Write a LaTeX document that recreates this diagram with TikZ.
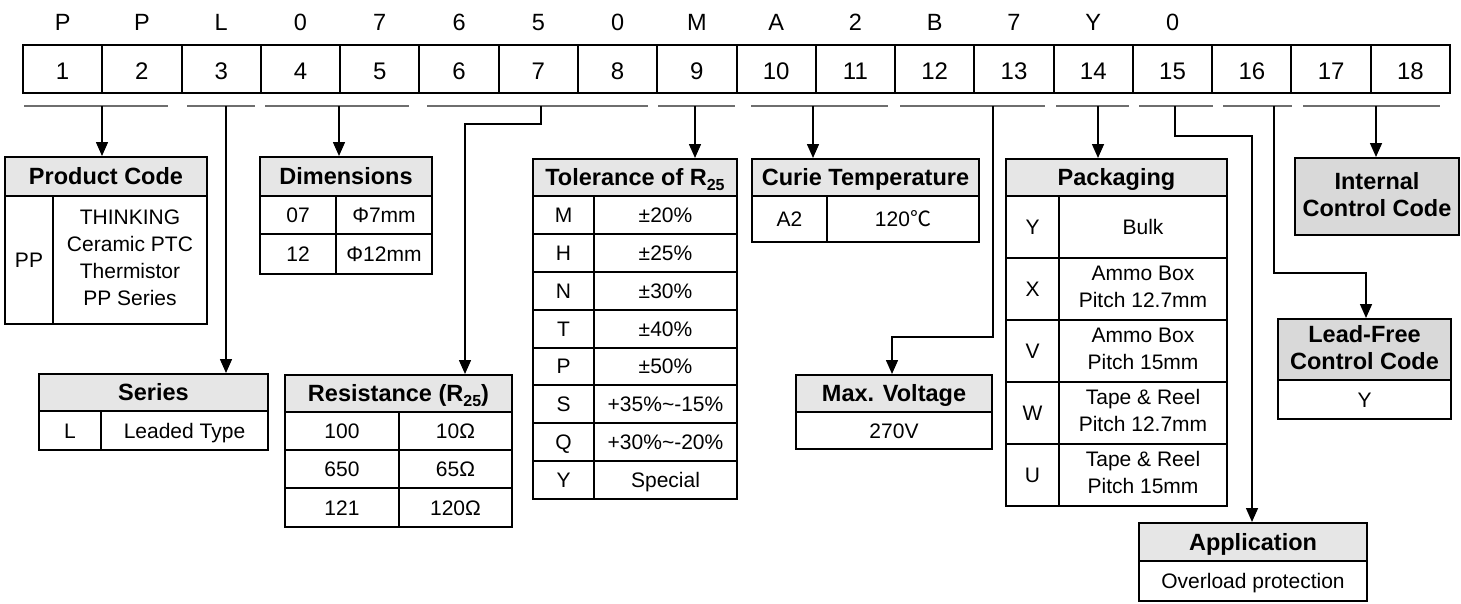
\documentclass[tikz,border=0pt]{standalone}
\usepackage{fontspec}
\setmainfont{Liberation Sans}
\newfontfamily\cjk{Noto Sans CJK SC}
\usetikzlibrary{arrows.meta}
\definecolor{hdr}{HTML}{E6E6E6}
\definecolor{hdrdark}{HTML}{D9D9D9}
\definecolor{segc}{HTML}{6E6E6E}
\newcommand\bodyfont{\fontsize{21}{27}\selectfont}
\newcommand\hdrfont{\fontsize{23.5}{27}\selectfont\bfseries}
\newcommand\mystrut{\rule[-0.21em]{0pt}{1.136em}}
\newcommand\subtxt[1]{\raisebox{-0.18em}{\fontsize{16}{16}\selectfont #1}}
\tikzset{
  cellbox/.style={draw=black, line width=2pt, inner sep=0pt, align=center, font=\bodyfont,
    execute at begin node=\mystrut, execute at end node=\mystrut},
  hdrbox/.style={cellbox, fill=hdr, font=\hdrfont},
  hdrdarkbox/.style={cellbox, fill=hdrdark, font=\hdrfont},
  topcell/.style={draw=black, line width=2pt, inner sep=0pt, font=\fontsize{24}{28}\selectfont,
    minimum width=79.28pt, minimum height=48pt},
  topnum/.style={inner sep=0pt, font=\fontsize{24}{28}\selectfont, execute at begin node=\mystrut},
  letter/.style={inner sep=0pt, font=\fontsize{23.5}{27}\selectfont, execute at begin node=\mystrut},
  seg/.style={draw=segc, line width=2pt},
  arr/.style={draw=black, line width=1.5pt, -{Triangle[length=14pt,width=12pt]}}
}
\newcommand\tcell[7][cellbox]{%
  \node[#1, minimum width={(#5)-(#3)}, minimum height={(#6)-(#4)}] (#2)
    at ({((#3)+(#5))/2},{((#4)+(#6))/2}) {#7};}
\begin{document}
\begin{tikzpicture}[x=1pt,y=-1pt]
\useasboundingbox (0,0) rectangle (1461,603);

% top row
\foreach \i in {1,...,18}{
  \node[topcell] (c\i) at ({23+79.28*(\i-0.5)},69) {};
  \node[topnum] (n\i) at ({23+79.28*(\i-0.5)},70.5) {\i};
}
\foreach \l [count=\i] in {P,P,L,0,7,6,5,0,M,A,2,B,7,Y,0}
  \node[letter] (l\i) at ({23+79.28*(\i-0.5)},22) {\l};

% underline segments
\draw[seg] (24,106) -- (168,106);
\draw[seg] (187,106) -- (255,106);
\draw[seg] (265,106) -- (409,106);
\draw[seg] (427,106) -- (648,106);
\draw[seg] (658,106) -- (735,106);
\draw[seg] (751,106) -- (888,106);
\draw[seg] (900,106) -- (1045,106);
\draw[seg] (1056,106) -- (1129,106);
\draw[seg] (1139,106) -- (1213,106);
\draw[seg] (1223,106) -- (1292,106);
\draw[seg] (1303,106) -- (1440,106);

% connector start points and bends
\coordinate (s1) at (102,106);
\coordinate (s2) at (226,106);
\coordinate (s3) at (339,106);
\coordinate (s4) at (541,106);
\coordinate (k4) at (465,124);
\coordinate (s5) at (695,106);
\coordinate (s6) at (813,106);
\coordinate (s7) at (993,106);
\coordinate (k7) at (892,337);
\coordinate (s8) at (1098,106);
\coordinate (s9) at (1175,106);
\coordinate (k9) at (1252,136);
\coordinate (s10) at (1274,106);
\coordinate (k10) at (1366,273);
\coordinate (s11) at (1376,106);

% Product Code
\tcell[hdrbox]{pch}{5}{157}{207}{196}{Product Code}
\tcell{pca}{5}{196}{53}{324}{PP}
\tcell{pcb}{53}{196}{207}{324}{THINKING\\Ceramic PTC\\Thermistor\\PP Series}

% Dimensions
\tcell[hdrbox]{dmh}{260}{157}{432}{196}{Dimensions}
\tcell{dm1a}{260}{196}{336}{234}{07}
\tcell{dm1b}{336}{196}{432}{234}{Φ7mm}
\tcell{dm2a}{260}{234}{336}{274}{12}
\tcell{dm2b}{336}{234}{432}{274}{Φ12mm}

% Tolerance
\tcell[hdrbox]{toh}{533}{159}{737}{196}{Tolerance of R\subtxt{25}}
\foreach \k/\v [count=\i] in {M/±20\%, H/±25\%, N/±30\%, T/±40\%, P/±50\%,
    S/+35\%\textasciitilde-15\%, Q/+30\%\textasciitilde-20\%, Y/Special}{
  \pgfmathsetmacro\ya{196+37.875*(\i-1)}
  \pgfmathsetmacro\yb{\ya+37.875}
  \tcell{tk\i}{533}{\ya}{594}{\yb}{\k}
  \tcell{tv\i}{594}{\ya}{737}{\yb}{\v}
}

% Curie Temperature
\tcell[hdrbox]{cth}{752}{159}{979}{196}{Curie Temperature}
\tcell{ct1a}{752}{196}{827}{242}{A2}
\tcell{ct1b}{827}{196}{979}{242}{120{\cjk ℃}}

% Series
\tcell[hdrbox]{seh}{39}{374}{268}{411}{Series}
\tcell{se1a}{39}{411}{101}{450}{L}
\tcell{se1b}{101}{411}{268}{450}{Leaded Type}

% Resistance
\tcell[hdrbox]{reh}{285}{375}{512}{412}{Resistance (R\subtxt{25})}
\tcell{re1a}{285}{412}{399}{450}{100}
\tcell{re1b}{399}{412}{512}{450}{10Ω}
\tcell{re2a}{285}{450}{399}{488}{650}
\tcell{re2b}{399}{450}{512}{488}{65Ω}
\tcell{re3a}{285}{488}{399}{527}{121}
\tcell{re3b}{399}{488}{512}{527}{120Ω}

% Max. Voltage
\tcell[hdrbox]{mvh}{796}{375}{992}{412}{Max. Voltage}
\tcell{mv1}{796}{412}{992}{449}{270V}

% Packaging
\tcell[hdrbox]{pkh}{1006}{159}{1227}{196}{Packaging}
\tcell{pk1a}{1006}{196}{1059}{258}{Y}
\tcell{pk1b}{1059}{196}{1227}{258}{Bulk}
\tcell{pk2a}{1006}{258}{1059}{320}{X}
\tcell{pk2b}{1059}{258}{1227}{320}{Ammo Box\\Pitch 12.7mm}
\tcell{pk3a}{1006}{320}{1059}{382}{V}
\tcell{pk3b}{1059}{320}{1227}{382}{Ammo Box\\Pitch 15mm}
\tcell{pk4a}{1006}{382}{1059}{444}{W}
\tcell{pk4b}{1059}{382}{1227}{444}{Tape \& Reel\\Pitch 12.7mm}
\tcell{pk5a}{1006}{444}{1059}{506}{U}
\tcell{pk5b}{1059}{444}{1227}{506}{Tape \& Reel\\Pitch 15mm}

% Internal Control Code
\tcell[hdrdarkbox]{icc}{1295}{158}{1459}{235}{Internal\\Control Code}

% Lead-Free Control Code
\tcell[hdrdarkbox]{lfh}{1278}{319}{1451}{380}{Lead-Free\\Control Code}
\tcell{lf1}{1278}{380}{1451}{419}{Y}

% Application
\tcell[hdrbox]{aph}{1139}{523}{1367}{561}{Application}
\tcell{ap1}{1139}{561}{1367}{601}{Overload protection}

% connectors
\draw[arr] (s1) -- (s1 |- pch.north);
\draw[arr] (s2) -- (s2 |- seh.north);
\draw[arr] (s3) -- (s3 |- dmh.north);
\draw[arr] (s4) |- (k4) -- (k4 |- reh.north);
\draw[arr] (s5) -- (s5 |- toh.north);
\draw[arr] (s6) -- (s6 |- cth.north);
\draw[arr] (s7) |- (k7) -- (k7 |- mvh.north);
\draw[arr] (s8) -- (s8 |- pkh.north);
\draw[arr] (s9) |- (k9) -- (k9 |- aph.north);
\draw[arr] (s10) |- (k10) -- (k10 |- lfh.north);
\draw[arr] (s11) -- (s11 |- icc.north);
\end{tikzpicture}
\end{document}
